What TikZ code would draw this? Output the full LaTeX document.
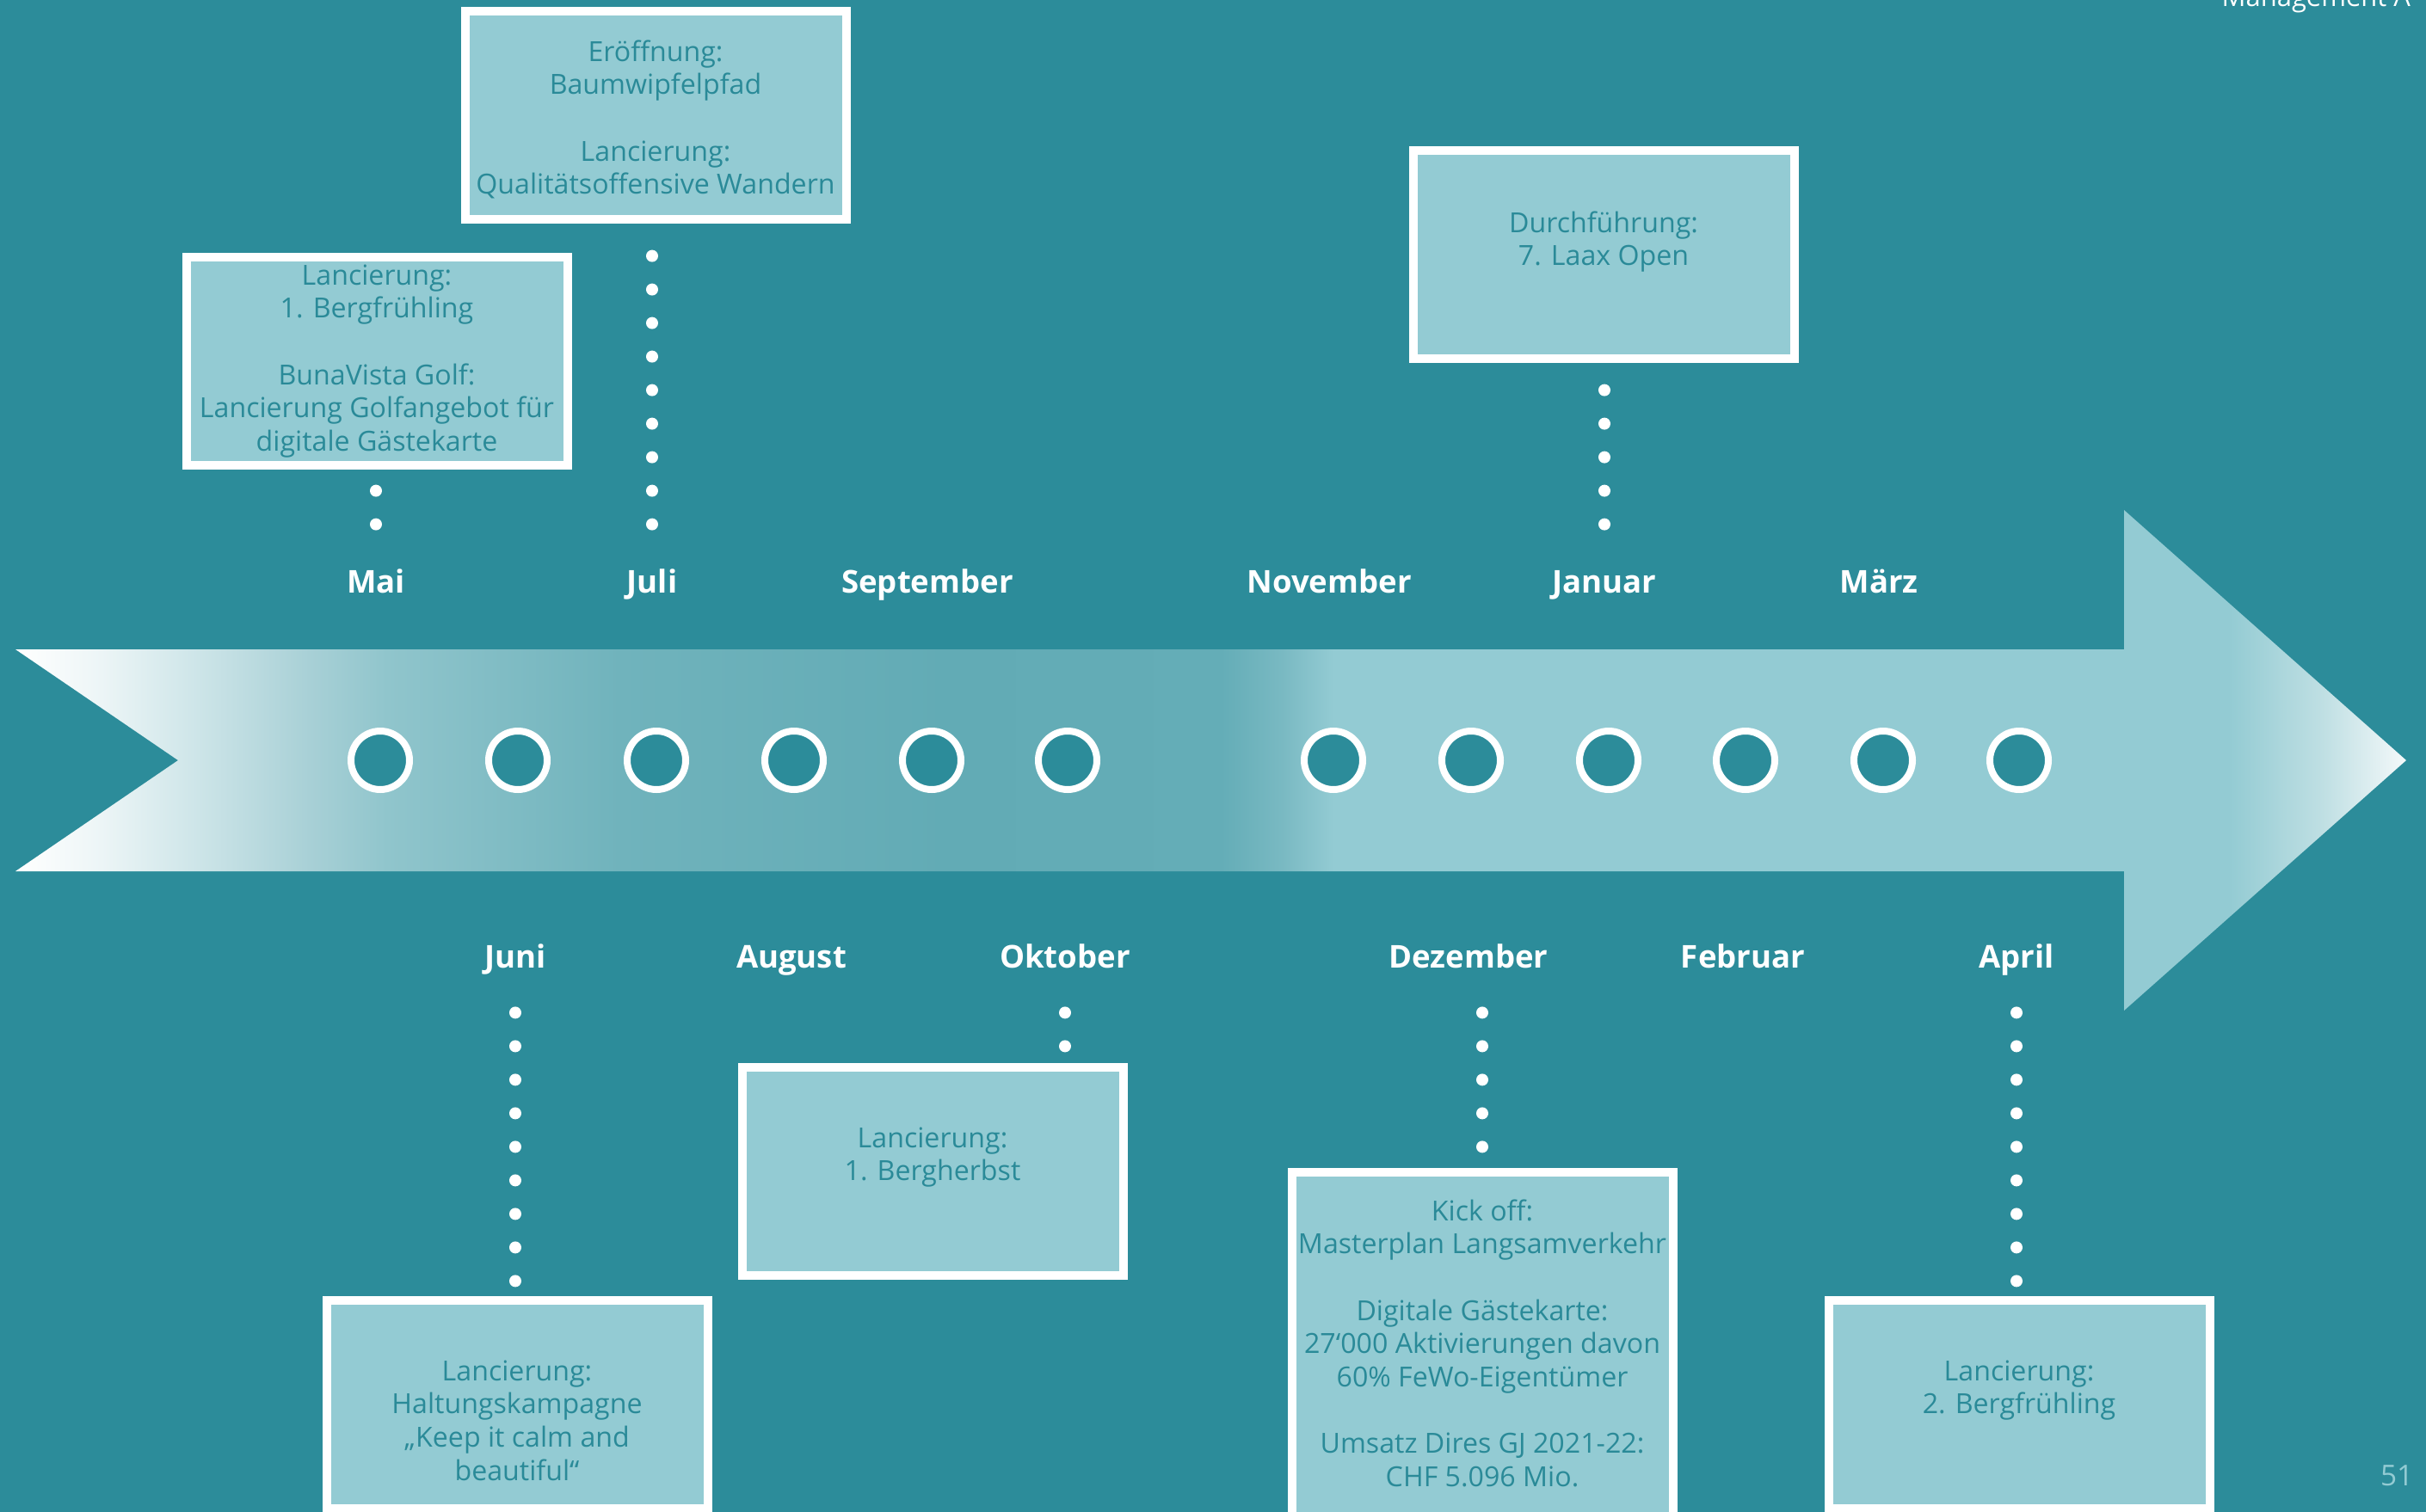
\documentclass[tikz,border=0pt]{standalone}
\usepackage{fontspec}
\setmainfont{Open Sans}
\usetikzlibrary{positioning}

\definecolor{bgteal}{RGB}{44,140,154}
\definecolor{boxfill}{RGB}{147,203,211}
\definecolor{boxtext}{RGB}{42,138,152}
\definecolor{bandA}{RGB}{238,246,247}
\definecolor{bandB}{RGB}{211,232,235}
\definecolor{bandC}{RGB}{168,208,214}
\definecolor{bandD}{RGB}{144,197,204}
\definecolor{bandE}{RGB}{112,179,188}
\definecolor{bandF}{RGB}{98,171,181}
\definecolor{bandG}{RGB}{100,173,183}
\definecolor{bandH}{RGB}{121,185,194}
\definecolor{bandI}{RGB}{191,223,227}
\definecolor{bandJ}{RGB}{244,249,250}

% timeline band: white -> teal, light block, white tip
\pgfdeclarehorizontalshading{timeband}{100bp}{
  color(0bp)=(white); color(25bp)=(white);
  color(26.66bp)=(bandA); color(28.45bp)=(bandB); color(31.15bp)=(bandC);
  color(32.77bp)=(bandD); color(37.63bp)=(bandE); color(44.47bp)=(bandF);
  color(50.22bp)=(bandG); color(51.48bp)=(bandH); color(52.56bp)=(boxfill);
  color(71.28bp)=(boxfill); color(73.25bp)=(bandI); color(75bp)=(bandJ);
  color(100bp)=(bandJ)}

\begin{document}
\begin{tikzpicture}[
    eventbox/.style={draw=white, line width=0.1cm, fill=boxfill,
      minimum width=4.43cm, minimum height=2.42cm, inner sep=0pt, anchor=north},
    eventtext/.style={text=boxtext, align=center, inner sep=0pt,
      font=\fontsize{9.15}{11}\selectfont},
    month/.style={text=white, inner sep=0pt, text height=0.27cm, text depth=0pt,
      font=\bfseries\fontsize{10.4}{12}\selectfont},
    monthdot/.style={circle, draw=white, line width=0.08cm, fill=bgteal,
      minimum size=0.68cm, inner sep=0pt},
    dotline/.style={white, line width=0.14cm, line cap=round,
      dash pattern=on 0pt off 0.39cm}
  ]

\useasboundingbox (0,0) rectangle (28.2,-17.58);
\clip (0,0) rectangle (28.2,-17.58);
\fill[bgteal] (0,0) rectangle (28.2,-17.58);

% ---------- timeline arrow ----------
\shade[shading=timeband] (0.18,-7.55) -- (24.69,-7.55) -- (24.69,-5.93)
  -- (27.97,-8.84) -- (24.69,-11.75) -- (24.69,-10.13) -- (0.18,-10.13)
  -- (2.07,-8.84) -- cycle;

% ---------- months ----------
\foreach \x [count=\i] in {4.42,6.02,7.63,9.23,10.83,12.41,15.50,17.10,18.70,20.29,21.89,23.47}
  \node[monthdot] (c\i) at (\x,-8.84) {};

\foreach \i/\m in {1/Mai,3/Juli,5/September,7/November,9/Januar,11/März}
  \node[month, above=1.56cm of c\i, xshift=-0.05cm] (m\i) {\m};
\foreach \i/\m in {2/Juni,4/August,6/Oktober,8/Dezember,10/Februar,12/April}
  \node[month, below=1.76cm of c\i, xshift=-0.03cm] (m\i) {\m};

% ---------- events above ----------
\node[eventbox] (boxMai) at (4.38,-2.94) {};
\node[eventtext, below=0.13cm of boxMai.north] (txtMai)
  {Lancierung:\\1. Bergfrühling\\~\\BunaVista Golf:\\Lancierung Golfangebot für\\digitale Gästekarte};

\node[eventbox] (boxJuli) at (7.62,-0.08) {};
\node[eventtext, below=0.38cm of boxJuli.north] (txtJuli)
  {Eröffnung:\\Baumwipfelpfad\\~\\Lancierung:\\Qualitätsoffensive Wandern};

\node[eventbox] (boxJan) at (18.64,-1.70) {};
\node[eventtext, below=0.75cm of boxJan.north] (txtJan)
  {Durchführung:\\7. Laax Open};

% ---------- events below ----------
\node[eventbox] (boxJuni) at (6.01,-15.07) {};
\node[eventtext, below=0.74cm of boxJuni.north] (txtJuni)
  {Lancierung:\\Haltungskampagne\\„Keep it calm and\\beautiful“};

\node[eventbox] (boxOkt) at (10.84,-12.36) {};
\node[eventtext, below=0.74cm of boxOkt.north] (txtOkt)
  {Lancierung:\\1. Bergherbst};

\node[eventbox, minimum height=4.6cm] (boxDez) at (17.23,-13.58) {};
\node[eventtext, below=0.36cm of boxDez.north] (txtDez)
  {Kick off:\\Masterplan Langsamverkehr\\~\\Digitale Gästekarte:\\27‘000 Aktivierungen davon\\60\% FeWo-Eigentümer\\~\\Umsatz Dires GJ 2021-22:\\CHF 5.096 Mio.};

\node[eventbox] (boxApr) at (23.47,-15.07) {};
\node[eventtext, below=0.74cm of boxApr.north] (txtApr)
  {Lancierung:\\2. Bergfrühling};

% ---------- dotted connectors ----------
\draw[dotline, shorten <=0.52cm, shorten >=0.15cm] (m1.north) -- (m1.north |- boxMai.south);
\draw[dotline, shorten <=0.52cm, shorten >=0.15cm] (m3.north) -- (m3.north |- boxJuli.south);
\draw[dotline, shorten <=0.52cm, shorten >=0.15cm] (m9.north) -- (m9.north |- boxJan.south);
\draw[dotline, shorten <=0.51cm, shorten >=0.15cm] (m2.south) -- (m2.south |- boxJuni.north);
\draw[dotline, shorten <=0.51cm, shorten >=0.15cm] (m6.south) -- (m6.south |- boxOkt.north);
\draw[dotline, shorten <=0.51cm, shorten >=0.15cm] (boxDez.north |- m8.south) -- (boxDez.north);
\draw[dotline, shorten <=0.51cm, shorten >=0.15cm] (m12.south) -- (m12.south |- boxApr.north);

% ---------- page furniture ----------
\node[text=white, anchor=base west, inner sep=0pt, font=\fontsize{8.8}{10}\selectfont]
  (header) at (25.82,-0.08) {Management A};
\node[text=boxfill, anchor=base east, inner sep=0pt, font=\fontsize{9.5}{11}\selectfont]
  (pagenum) at (28.06,-17.27) {51};

\end{tikzpicture}
\end{document}
